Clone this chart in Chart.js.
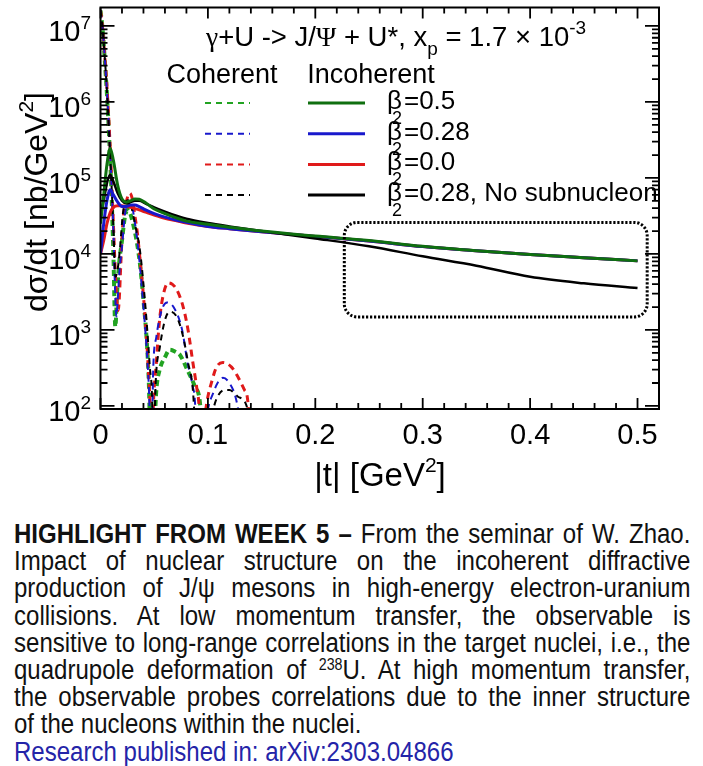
<!DOCTYPE html>
<html lang="en">
<head>
<meta charset="UTF-8">
<title>Incoherent J/psi production in e+U</title>
<script src="https://cdn.jsdelivr.net/npm/chart.js"></script>
<style>
  html, body { margin: 0; padding: 0; background: #fff; }
  body { width: 703px; height: 766px; position: relative; overflow: hidden; }
  #plot { position: absolute; left: 0; top: 0; }
  #caption {
    position: absolute; left: 14px; top: 521px; width: 760px;
    transform: scaleX(0.89); transform-origin: 0 0;
    font-family: "Liberation Sans", Arial, sans-serif; font-size: 27px;
    line-height: 27.2px; color: #111;
  }
  #caption .j { text-align: justify; text-align-last: justify; word-spacing: -4px; }
  #caption sup { font-size: 16px; vertical-align: 9px; line-height: 0; }
  #caption .link { color: #2424a8; }
</style>
</head>
<body>
<canvas id="plot" width="703" height="500"></canvas>
<div id="caption">
  <div class="j"><b>HIGHLIGHT FROM WEEK 5 –</b> From the seminar of W. Zhao.</div>
  <div class="j">Impact of nuclear structure on the incoherent diffractive</div>
  <div class="j">production of J/ψ mesons in high-energy electron-uranium</div>
  <div class="j">collisions. At low momentum transfer, the observable is</div>
  <div class="j">sensitive to long-range correlations in the target nuclei, i.e., the</div>
  <div class="j">quadrupole deformation of <sup>238</sup>U. At high momentum transfer,</div>
  <div class="j">the observable probes correlations due to the inner structure</div>
  <div>of the nucleons within the nuclei.</div>
  <div class="link">Research published in: arXiv:2303.04866</div>
</div>
<script>
// |t| grid for the incoherent curves [GeV^2]
const tInc = [0, 0.003, 0.006, 0.009, 0.012, 0.016, 0.020, 0.024, 0.028, 0.032, 0.036, 0.042, 0.05,
  0.06, 0.07, 0.08, 0.1, 0.12, 0.15, 0.2, 0.25, 0.3, 0.35, 0.4, 0.45, 0.5];
// incoherent dsigma/dt [nb/GeV^2]
const incGreen = [2.5e4, 6e4, 1.5e5, 2.45e5, 1.7e5, 8e4, 5.3e4, 4.8e4, 5.0e4, 5.3e4, 5.25e4, 4.7e4, 3.9e4,
  3.4e4, 3.0e4, 2.7e4, 2.45e4, 2.25e4, 2.0e4, 1.72e4, 1.5e4, 1.26e4, 1.1e4, 9.8e3, 8.9e3, 8.1e3];
const incBlue = [1e4, 2.5e4, 5e4, 7e4, 6e4, 4.8e4, 4.2e4, 4.2e4, 4.4e4, 4.4e4, 4.2e4, 3.8e4, 3.4e4,
  3.05e4, 2.8e4, 2.6e4, 2.3e4, 2.15e4, 1.95e4, 1.7e4, 1.48e4, 1.25e4, 1.1e4, 9.8e3, 8.9e3, 8.1e3];
const incRed = [1e4, 1.5e4, 2.5e4, 3.5e4, 4.1e4, 4.3e4, 4.3e4, 4.2e4, 4.1e4, 3.95e4, 3.8e4, 3.55e4, 3.25e4,
  2.95e4, 2.75e4, 2.55e4, 2.3e4, 2.15e4, 1.95e4, 1.7e4, 1.48e4, 1.25e4, 1.1e4, 9.8e3, 8.9e3, 8.1e3];
const incBlack = [3e4, 5e4, 8.5e4, 1.1e5, 9e4, 6.3e4, 5e4, 4.6e4, 4.8e4, 5.0e4, 5.0e4, 4.6e4, 4.1e4,
  3.6e4, 3.2e4, 2.9e4, 2.55e4, 2.3e4, 2.0e4, 1.6e4, 1.26e4, 9.3e3, 7.0e3, 5.0e3, 4.1e3, 3.55e3];

// coherent curves, each on its own |t| points (values under the axis are the diffraction zeros)
const tCohGreen = [0, 0.002, 0.004, 0.006, 0.008, 0.010, 0.012, 0.0138, 0.0155, 0.0175, 0.0197, 0.0228,
  0.0256, 0.028, 0.030, 0.034, 0.037, 0.040, 0.043, 0.045, 0.047, 0.049, 0.052, 0.055, 0.060, 0.0647,
  0.070, 0.074, 0.081, 0.088, 0.0926, 0.096];
const cohGreen = [1.6e7, 8.9e6, 3.5e6, 1.26e6, 3.5e5, 7.9e4, 1.0e4, 1100, 3200, 7900, 1.38e4, 3.1e4,
  3.8e4, 3.3e4, 2.6e4, 1.38e4, 6800, 2450, 740, 200, 20, 25, 162, 295, 437, 550,
  513, 468, 295, 178, 110, 20];
const tCohRed = [0, 0.002, 0.004, 0.006, 0.008, 0.010, 0.012, 0.014, 0.0155, 0.0165, 0.0175, 0.019,
  0.021, 0.0245, 0.0274, 0.030, 0.032, 0.0345, 0.037, 0.040, 0.043, 0.045, 0.0465, 0.0478, 0.049,
  0.052, 0.055, 0.058, 0.063, 0.067, 0.071, 0.077, 0.0815, 0.086, 0.0895, 0.092, 0.0945, 0.097,
  0.099, 0.104, 0.108, 0.114, 0.122, 0.128, 0.134, 0.137, 0.141];
const cohRed = [1.6e7, 9.3e6, 4.0e6, 1.6e6, 5.0e5, 1.26e5, 2.5e4, 5000, 2200, 1800, 2600, 7900,
  2.8e4, 5.2e4, 6.3e4, 5.0e4, 3.2e4, 1.8e4, 7900, 2800, 710, 224, 79, 10, 79,
  372, 1350, 2700, 4170, 3980, 3390, 2000, 1000, 372, 178, 89, 10, 63,
  110, 219, 324, 372, 324, 240, 162, 120, 10];
const tCohBlue = [0, 0.002, 0.004, 0.006, 0.008, 0.010, 0.012, 0.0135, 0.0148, 0.016, 0.0178, 0.0197,
  0.023, 0.0265, 0.029, 0.032, 0.0345, 0.037, 0.040, 0.043, 0.045, 0.0475, 0.049, 0.052, 0.057,
  0.062, 0.068, 0.076, 0.081, 0.086, 0.088, 0.0905, 0.097, 0.100, 0.105, 0.109, 0.114, 0.120,
  0.126, 0.132, 0.136];
const cohBlue = [1.6e7, 9.1e6, 3.8e6, 1.4e6, 4.2e5, 1.0e5, 2.0e4, 3600, 1500, 2500, 6300, 1.12e4,
  3.5e4, 5.0e4, 4.5e4, 2.6e4, 1.4e4, 6300, 2000, 560, 178, 16, 280, 810, 1820,
  2290, 2000, 1000, 372, 178, 110, 10, 40, 89, 148, 200, 234, 200,
  126, 40, 10];
const tCohBlack = [0, 0.002, 0.004, 0.006, 0.008, 0.010, 0.012, 0.014, 0.016, 0.018, 0.021, 0.0256,
  0.029, 0.032, 0.0367, 0.040, 0.043, 0.046, 0.048, 0.049, 0.0515, 0.0553, 0.060, 0.0647, 0.071,
  0.077, 0.0815, 0.086, 0.0885, 0.0905, 0.100, 0.105, 0.109, 0.116, 0.120, 0.128, 0.136, 0.141, 0.145];
const cohBlack = [1.6e7, 9.1e6, 3.8e6, 1.4e6, 4.0e5, 1.0e5, 2.2e4, 5000, 6300, 1.12e4, 3.5e4, 5.1e4,
  4.0e4, 2.5e4, 1.12e4, 4000, 1260, 316, 126, 20, 224, 600, 1350, 1740, 1480,
  810, 372, 162, 40, 10, 32, 89, 132, 162, 162, 132, 100, 32, 10];

const xTicks = [0, 0.1, 0.2, 0.3, 0.4, 0.5];
const xTickLabels = ['0', '0.1', '0.2', '0.3', '0.4', '0.5'];
const yDecades = [2, 3, 4, 5, 6, 7];
const legendLabels = ['=0.5', '=0.28', '=0.0', '=0.28, No subnucleon'];
const zoomBox = [0.227, 0.509, 1480, 2.6e4]; // t from, t to, dsigma/dt from, to

const GREEN = '#0f6f0f', GREEN_D = '#22a322', BLUE = '#1818cc', RED = '#e01a1a', BLACK = '#000';
const legendColors = [[GREEN_D, GREEN], [BLUE, BLUE], [RED, RED], [BLACK, BLACK]];
const SANS = '"Liberation Sans", Arial, sans-serif';
const SERIF = '"Liberation Serif", "Times New Roman", serif';

function pts(ts, vs) {
  return ts.map((t, i) => ({ x: t, y: vs[i] }));
}

function solid(data, color, w) {
  return { data, borderColor: color, borderWidth: w, pointRadius: 0, cubicInterpolationMode: 'monotone', fill: false };
}
function dashed(data, color, w, dash) {
  return { data, borderColor: color, borderWidth: w, borderDash: dash, pointRadius: 0, cubicInterpolationMode: 'monotone', fill: false };
}

// draws pieces [text, font, dy] one after another
function drawRich(ctx, segs, x, y, align) {
  let w = 0;
  for (const s of segs) { ctx.font = s[1]; w += ctx.measureText(s[0]).width; }
  let cx = align === 'center' ? x - w / 2 : align === 'right' ? x - w : x;
  for (const s of segs) {
    ctx.font = s[1];
    ctx.fillText(s[0], cx, y + (s[2] || 0));
    cx += ctx.measureText(s[0]).width;
  }
  return w;
}

const decorations = {
  id: 'decorations',
  afterDatasetsDraw(chart) {
    const { ctx, chartArea: a } = chart;
    const x = chart.scales.x, y = chart.scales.y;
    ctx.save();
    ctx.fillStyle = '#000';
    ctx.strokeStyle = '#000';
    ctx.textAlign = 'left';
    ctx.textBaseline = 'alphabetic';

    // dotted box around the high |t| region
    const bx0 = x.getPixelForValue(zoomBox[0]), bx1 = x.getPixelForValue(zoomBox[1]);
    const by0 = y.getPixelForValue(zoomBox[3]), by1 = y.getPixelForValue(zoomBox[2]);
    ctx.lineWidth = 3;
    ctx.setLineDash([2.2, 1.8]);
    ctx.beginPath();
    ctx.roundRect(bx0, by0, bx1 - bx0, by1 - by0, 13);
    ctx.stroke();
    ctx.setLineDash([]);

    // frame
    ctx.lineWidth = 2;
    ctx.strokeRect(a.left, a.top, a.right - a.left, a.bottom - a.top);

    // x ticks, bottom and top, pointing in
    ctx.lineWidth = 1.8;
    ctx.beginPath();
    for (let i = 0; i <= 26; i++) {
      const px = x.getPixelForValue(i * 0.02);
      if (px > a.right - 2) continue;
      const len = i % 5 === 0 ? 11 : 6;
      ctx.moveTo(px, a.bottom); ctx.lineTo(px, a.bottom - len);
      ctx.moveTo(px, a.top); ctx.lineTo(px, a.top + len);
    }
    // y ticks, left and right
    for (const d of yDecades) {
      for (let m = 1; m <= 9; m++) {
        const v = m * Math.pow(10, d);
        if (v < y.min || v > y.max) continue;
        const py = y.getPixelForValue(v);
        const len = m === 1 ? 14 : 7;
        ctx.moveTo(a.left, py); ctx.lineTo(a.left + len, py);
        ctx.moveTo(a.right, py); ctx.lineTo(a.right - len, py);
      }
    }
    ctx.stroke();

    // tick labels
    const big = '29px ' + SANS, small = '19px ' + SANS;
    xTicks.forEach((v, i) => {
      ctx.font = big;
      ctx.textAlign = 'center';
      ctx.fillText(xTickLabels[i], x.getPixelForValue(v), 444);
    });
    ctx.textAlign = 'left';
    for (const d of yDecades) {
      const py = y.getPixelForValue(Math.pow(10, d));
      drawRich(ctx, [['10', big, 0], [String(d), small, -12]], 91, py + 15, 'right');
    }

    // axis titles
    const tf = '33px ' + SANS, ts = '21px ' + SANS;
    drawRich(ctx, [['|t| [GeV', tf, 0], ['2', ts, -14], [']', tf, 0]], 380, 486, 'center');
    ctx.save();
    ctx.translate(47, 202);
    ctx.rotate(-Math.PI / 2);
    drawRich(ctx, [['dσ/dt [nb/GeV', '32px ' + SANS, 0], ['2', ts, -14], [']', '32px ' + SANS, 0]], 0, 0, 'center');
    ctx.restore();

    // title
    const s27 = '27.5px ' + SANS, g27 = '27.5px ' + SERIF, s19 = '19px ' + SANS;
    drawRich(ctx, [['γ', g27, 0], ['+U -> J/', s27, 0], ['Ψ', g27, 0], [' + U*, x', s27, 0],
      ['p', s19, 9], [' = 1.7 × 10', s27, 0], ['-3', s19, -12]], 206, 46, 'left');

    // legend
    ctx.font = '27px ' + SANS;
    ctx.textAlign = 'center';
    ctx.fillText('Coherent', 222, 83);
    ctx.fillText('Incoherent', 371, 83);
    ctx.textAlign = 'left';
    legendLabels.forEach((lab, i) => {
      const ly = 103 + i * 30.7;
      ctx.strokeStyle = legendColors[i][0];
      ctx.lineWidth = 2;
      ctx.setLineDash([6, 5]);
      ctx.beginPath(); ctx.moveTo(205, ly); ctx.lineTo(250, ly); ctx.stroke();
      ctx.setLineDash([]);
      ctx.strokeStyle = legendColors[i][1];
      ctx.lineWidth = 3;
      ctx.beginPath(); ctx.moveTo(308, ly); ctx.lineTo(365, ly); ctx.stroke();
      ctx.font = '26px ' + SANS;
      ctx.fillText('β', 387, ly + 6);
      const bw = ctx.measureText('β').width;
      ctx.fillText(lab, 387 + bw + 2, ly + 6);
      ctx.font = '18px ' + SANS;
      ctx.fillText('2', 392, ly + 21);
    });
    ctx.restore();
  }
};

new Chart(document.getElementById('plot'), {
  type: 'line',
  data: {
    datasets: [
      solid(pts(tInc, incGreen), GREEN, 3),
      solid(pts(tInc, incBlack), BLACK, 2.5),
      solid(pts(tInc, incBlue), BLUE, 3),
      solid(pts(tInc, incRed), RED, 3),
      dashed(pts(tCohBlack, cohBlack), BLACK, 2, [6, 5]),
      dashed(pts(tCohBlue, cohBlue), BLUE, 2, [7, 5]),
      dashed(pts(tCohRed, cohRed), RED, 3, [7, 5]),
      dashed(pts(tCohGreen, cohGreen), GREEN_D, 4, [6, 4])
    ]
  },
  options: {
    responsive: false,
    animation: false,
    devicePixelRatio: 1,
    layout: { padding: { left: 100.5, top: 7.5, right: 44, bottom: 91 } },
    plugins: { legend: { display: false }, tooltip: { enabled: false } },
    scales: {
      x: { type: 'linear', min: 0, max: 0.52, display: false },
      y: { type: 'logarithmic', min: 91, max: 1.75e7, display: false }
    }
  },
  plugins: [decorations]
});
</script>
</body>
</html>
